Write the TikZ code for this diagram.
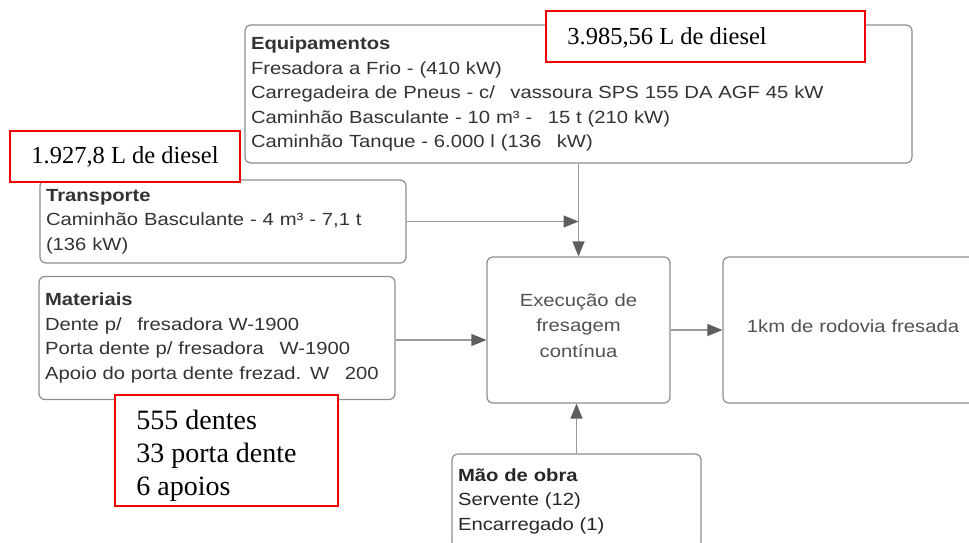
\documentclass[tikz,border=0pt]{standalone}
\usepackage{fontspec}
\setmainfont{Liberation Sans}[FakeStretch=1.15]
\newfontfamily\notefont{Liberation Serif}
\usetikzlibrary{arrows.meta}
\definecolor{boxline}{HTML}{8E8E8E}
\definecolor{boxtext}{HTML}{333333}
\definecolor{flowline}{HTML}{999999}
\definecolor{flowhead}{HTML}{5E5E5E}
\definecolor{notered}{HTML}{F00000}
\newcommand{\gap}{\hspace{0.55em} }
\tikzset{
  flowbox/.style={draw=boxline, line width=1.2pt, rounded corners=6pt, fill=white,
    text=boxtext, align=left, inner xsep=6pt, inner ysep=0pt,
    font=\fontsize{17.6}{24.5}\selectfont},
  centerbox/.style={flowbox, align=center, text=boxtext!85},
  notebox/.style={draw=notered, line width=1.6pt, fill=white, text=black,
    inner ysep=0pt},
  notetext/.style={anchor=north west, inner sep=0pt, align=left, text=black}
}
\tikzset{
  flow/.style={draw=flowline, line width=1.3pt,
    -{Triangle[length=15pt, width=12pt, color=flowhead, fill=flowhead]}}
}
\begin{document}
\begin{tikzpicture}[x=1pt, y=-1pt]
\useasboundingbox[fill=white] (0,0) rectangle (969,542);
\begin{scope}
\clip (0,0) rectangle (969,542);

% process boxes
\node[flowbox, minimum width=667pt, minimum height=138pt, text width=655pt] (equip) at (578.5,94)
  {\textbf{Equipamentos}\\
   Fresadora a Frio - (410 kW)\\
   Carregadeira de Pneus - c/\gap vassoura SPS 155 DA AGF 45 kW\\
   Caminhão Basculante - 10 m³ -\gap 15 t (210 kW)\\
   Caminhão Tanque - 6.000 l (136\gap kW)};

\node[flowbox, minimum width=366pt, minimum height=83pt, text width=354pt] (trans) at (223,221.5)
  {\textbf{Transporte}\\
   Caminhão Basculante - 4 m³ - 7,1 t\\
   (136 kW)};

\node[flowbox, minimum width=356pt, minimum height=123pt, text width=344pt] (mat) at (217,338)
  {\textbf{Materiais}\\
   Dente p/\gap fresadora W-1900\\
   Porta dente p/ fresadora\gap W-1900\\
   Apoio do porta dente frezad. W\gap 200};

\node[centerbox, minimum width=183pt, minimum height=146pt, text width=171pt,
      text height=13pt, text depth=61pt,
      font=\fontsize{17.6}{25.5}\selectfont] (exec) at (578.5,330)
  {Execução de\\ fresagem\\ contínua};

\node[centerbox, minimum width=260pt, minimum height=146pt, text width=248pt,
      text height=13pt, text depth=8pt] (km) at (853,330)
  {1km de rodovia fresada};

\node[flowbox, minimum width=249pt, minimum height=94pt, text width=237pt, text=black!85] (mao) at (576.5,501)
  {\textbf{Mão de obra}\\
   Servente (12)\\
   Encarregado (1)};

% connectors
\draw[flow] (exec.north |- equip.south) -- (exec.north);
\draw[flow] (trans.east) -- (trans.east -| exec.north);
\draw[flow] (mat.east |- 0,340) -- (exec.west |- 0,340);
\draw[flow] (exec.east) -- (km.west);
\draw[flow] (mao.north) -- (mao.north |- exec.south);

% consumption notes
\node[notebox, minimum width=319pt, minimum height=51pt] (diesel1) at (705.5,36.5) {};
\node[notetext, font=\notefont\fontsize{24.5}{28}\selectfont] (diesel1txt)
  at ([xshift=22pt, yshift=-17pt]diesel1.north west) {3.985,56 L de diesel};

\node[notebox, minimum width=230pt, minimum height=51pt, align=center,
      font=\notefont\fontsize{24.5}{28}\selectfont] (diesel2) at (125,156.5)
  {1.927,8 L de diesel};

\node[notebox, minimum width=223pt, minimum height=111pt] (pecas) at (226.5,450.5) {};
\node[notetext, font=\notefont\fontsize{28}{33}\selectfont] (pecaslist)
  at ([xshift=22pt, yshift=-16pt]pecas.north west)
  {555 dentes\\ 33 porta dente\\ 6 apoios};
\end{scope}
\end{tikzpicture}
\end{document}
